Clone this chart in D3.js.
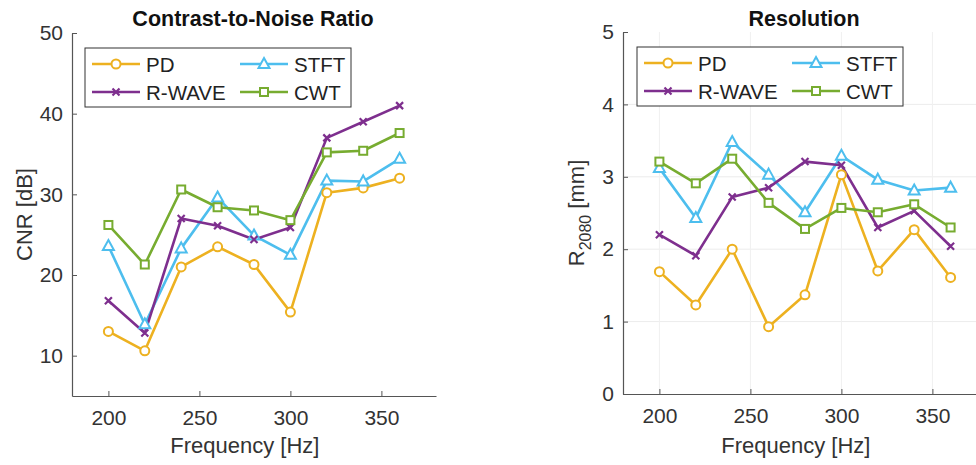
<!DOCTYPE html>
<html>
<head>
<meta charset="utf-8">
<script src="https://cdn.jsdelivr.net/npm/d3@7"></script>
<style>
  body { margin: 0; background: #fff; }
  svg { display: block; font-family: "Liberation Sans", Arial, sans-serif; }
</style>
</head>
<body>
<div id="chart"></div>
<script>
// frequencies shared by both panels
const freqs = [200, 220, 240, 260, 280, 300, 320, 340, 360]
const seriesNames = ["PD", "STFT", "R-WAVE", "CWT"]

// Contrast-to-Noise Ratio [dB]
const cnrPD = [13.0, 10.6, 21.0, 23.5, 21.3, 15.4, 30.2, 30.8, 32.0]
const cnrSTFT = [23.6, 13.9, 23.3, 29.6, 24.9, 22.5, 31.7, 31.6, 34.4]
const cnrRWAVE = [16.8, 12.8, 27.0, 26.1, 24.4, 25.9, 37.0, 39.0, 41.0]
const cnrCWT = [26.2, 21.3, 30.6, 28.4, 28.0, 26.8, 35.2, 35.4, 37.6]

// Resolution R2080 [mm]
const resPD = [1.69, 1.23, 2.00, 0.93, 1.37, 3.03, 1.70, 2.27, 1.61]
const resSTFT = [3.12, 2.43, 3.48, 3.03, 2.51, 3.29, 2.96, 2.81, 2.85]
const resRWAVE = [2.20, 1.91, 2.72, 2.85, 3.21, 3.16, 2.30, 2.53, 2.04]
const resCWT = [3.21, 2.91, 3.25, 2.64, 2.28, 2.57, 2.51, 2.62, 2.30]

const xTicks = [200, 250, 300, 350]
const cnrTicks = [10, 20, 30, 40, 50]
const resTicks = [0, 1, 2, 3, 4, 5]

const colors = {"PD": "#EDB120", "STFT": "#4DBEEE", "R-WAVE": "#7E2F8E", "CWT": "#77AC30"}
const markers = {"PD": "circle", "STFT": "triangle", "R-WAVE": "cross", "CWT": "square"}

const svg = d3.select("#chart").append("svg")
    .attr("width", 976)
    .attr("height", 465)

function drawMarker(g, type, x, y, color) {
    if (type === "circle") {
        g.append("circle").attr("cx", x).attr("cy", y).attr("r", 4.5)
            .attr("fill", "#fff").attr("stroke", color).attr("stroke-width", 2)
    } else if (type === "square") {
        g.append("rect").attr("x", x - 4).attr("y", y - 4).attr("width", 8).attr("height", 8)
            .attr("fill", "#fff").attr("stroke", color).attr("stroke-width", 2)
    } else if (type === "triangle") {
        g.append("path")
            .attr("d", `M${x},${y - 6}L${x + 5.5},${y + 4}L${x - 5.5},${y + 4}Z`)
            .attr("fill", "#fff").attr("stroke", color).attr("stroke-width", 2)
    } else {
        g.append("path")
            .attr("d", `M${x - 3.5},${y - 3.5}L${x + 3.5},${y + 3.5}M${x - 3.5},${y + 3.5}L${x + 3.5},${y - 3.5}`)
            .attr("stroke", color).attr("stroke-width", 2.2)
    }
}

function panel(opts) {
    const g = svg.append("g")
    const x = d3.scaleLinear().domain([180, 380]).range([opts.left, opts.left + 364])
    const y = d3.scaleLinear().domain(opts.yDomain).range([opts.bottom, opts.top])

    if (opts.grid) {
        g.append("g").selectAll("line.gy").data(opts.yTicks.slice(1, -1)).enter().append("line")
            .attr("x1", opts.left).attr("x2", opts.left + 364)
            .attr("y1", d => y(d)).attr("y2", d => y(d))
            .attr("stroke", "#ececec").attr("stroke-width", 1)
        g.append("g").selectAll("line.gx").data(xTicks).enter().append("line")
            .attr("x1", d => x(d)).attr("x2", d => x(d))
            .attr("y1", opts.top).attr("y2", opts.bottom)
            .attr("stroke", "#f0f0f0").attr("stroke-width", 1)
    }

    const xAxis = g.append("g")
        .attr("transform", `translate(0,${opts.bottom})`)
        .call(d3.axisBottom(x).tickValues(xTicks).tickFormat(d3.format("d"))
            .tickSize(-5).tickPadding(14).tickSizeOuter(0))
    const yAxis = g.append("g")
        .attr("transform", `translate(${opts.left},0)`)
        .call(d3.axisLeft(y).tickValues(opts.yTicks).tickFormat(d3.format("d"))
            .tickSize(-5).tickPadding(9).tickSizeOuter(0))

    for (const ax of [xAxis, yAxis]) {
        ax.attr("font-size", 21).attr("font-family", "Liberation Sans, Arial, sans-serif")
        ax.select(".domain").attr("stroke", "#555").attr("stroke-width", 1.2)
        ax.selectAll(".tick line").attr("stroke", "#555")
        ax.selectAll(".tick text").attr("fill", "#333")
    }

    const line = d3.line().x((d, i) => x(freqs[i])).y(d => y(d))
    opts.series.forEach((vals, k) => {
        const name = seriesNames[k]
        g.append("path").datum(vals).attr("d", line)
            .attr("fill", "none").attr("stroke", colors[name]).attr("stroke-width", 2.6)
            .attr("stroke-linejoin", "round")
    })
    opts.series.forEach((vals, k) => {
        const name = seriesNames[k]
        vals.forEach((v, i) => drawMarker(g, markers[name], x(freqs[i]), y(v), colors[name]))
    })

    // title + labels
    g.append("text").attr("x", opts.titleX).attr("y", 26).attr("text-anchor", "middle")
        .attr("font-size", 21.5).attr("font-weight", "bold").attr("fill", "#111").text(opts.title)
    g.append("text").attr("x", x(275)).attr("y", 453).attr("text-anchor", "middle")
        .attr("font-size", 22).attr("fill", "#333").text("Frequency [Hz]")
    const yl = g.append("text")
        .attr("transform", `translate(${opts.labelX},${(opts.top + opts.bottom) / 2}) rotate(-90)`)
        .attr("text-anchor", "middle").attr("font-size", 22).attr("fill", "#333")
    if (opts.sub) {
        yl.append("tspan").text("R")
        yl.append("tspan").attr("font-size", 16).attr("dy", 7).text(opts.sub)
        yl.append("tspan").attr("dy", -7).text(" [mm]")
    } else {
        yl.text(opts.yLabel)
    }

    // legend
    const lg = g.append("g").attr("transform", `translate(${opts.legX},${opts.legY})`)
    lg.append("rect").attr("width", 266).attr("height", 59)
        .attr("fill", "#fff").attr("stroke", "#333").attr("stroke-width", 1)
    const order = ["PD", "STFT", "R-WAVE", "CWT"]
    order.forEach((name, i) => {
        const cx = (i % 2) * 148 + 7
        const cy = i < 2 ? 16 : 44
        lg.append("line").attr("x1", cx).attr("x2", cx + 48).attr("y1", cy).attr("y2", cy)
            .attr("stroke", colors[name]).attr("stroke-width", 2.6)
        drawMarker(lg, markers[name], cx + 24, cy, colors[name])
        lg.append("text").attr("x", cx + 54).attr("y", cy + 7.5)
            .attr("font-size", 20.5).attr("fill", "#222").text(name)
    })
}

panel({
    left: 72, top: 33, bottom: 396, yDomain: [5, 50], yTicks: cnrTicks,
    series: [cnrPD, cnrSTFT, cnrRWAVE, cnrCWT],
    title: "Contrast-to-Noise Ratio", titleX: 253, yLabel: "CNR [dB]", labelX: 32,
    legX: 85, legY: 48, grid: false
})
panel({
    left: 623, top: 32, bottom: 394, yDomain: [0, 5], yTicks: resTicks,
    series: [resPD, resSTFT, resRWAVE, resCWT],
    title: "Resolution", titleX: 804, sub: "2080", labelX: 584,
    legX: 637, legY: 47, grid: true
})
</script>
</body>
</html>
